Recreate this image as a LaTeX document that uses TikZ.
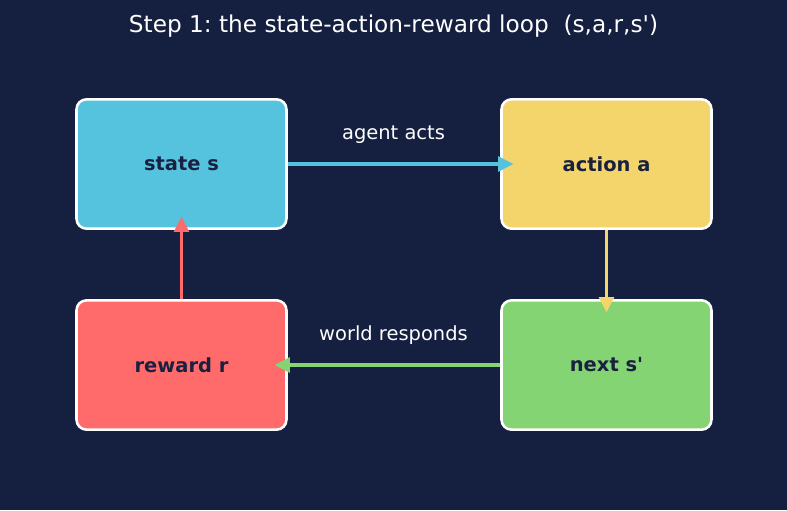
\documentclass[tikz,border=0pt]{standalone}
\usepackage{fontspec}
\setmainfont{DejaVu Sans}
\usetikzlibrary{arrows.meta}
\frenchspacing
\definecolor{bgnavy}{HTML}{151F3F}
\definecolor{inknavy}{HTML}{1A2140}
\definecolor{stateblue}{HTML}{56C3DE}
\definecolor{actionyellow}{HTML}{F4D56C}
\definecolor{rewardred}{HTML}{FF6B6B}
\definecolor{nextgreen}{HTML}{84D474}
\begin{document}
\begin{tikzpicture}[x=0.75pt, y=-0.75pt,
    box/.style={draw=white, line width=1.9pt, rounded corners=7.5pt,
        minimum width=157.5pt, minimum height=97pt, inner sep=0pt,
        text=inknavy, font=\fontsize{14.6}{17}\selectfont\bfseries},
    flow/.style={line width=2.6pt, -{Triangle[length=11.5pt, width=11pt]},
        shorten >=-10pt},
    lab/.style={anchor=base, text=white, font=\fontsize{14.6}{17}\selectfont}]
    \fill[bgnavy] (0,0) rectangle (787,510);
    \useasboundingbox (0,0) rectangle (787,510);
    \node[anchor=base, text=white, font=\fontsize{17.4}{21}\selectfont] (title) at (393.5,32.5)
        {Step 1: the state-action-reward loop \ (s,a,r,s\textquotesingle)};
    % four boxes
    \node[box, fill=stateblue] (st) at (181.5,164) {state s};
    \node[box, fill=actionyellow] (act) at (606.5,164) {action a};
    \node[box, fill=rewardred] (rew) at (181.5,365) {reward r};
    \node[box, fill=nextgreen] (nxt) at (606.5,365) {next s\textquotesingle};
    % loop arrows
    \draw[flow, color=stateblue] (st.east) -- (act.west);
    \node[lab] (acts) at (393.5,139) {agent acts};
    \draw[flow, color=actionyellow] (act.south) -- (nxt.north);
    \draw[flow, color=nextgreen] (nxt.west) -- (rew.east);
    \node[lab] (resp) at (393.5,340) {world responds};
    \draw[flow, color=rewardred] (rew.north) -- (st.south);
\end{tikzpicture}
\end{document}
